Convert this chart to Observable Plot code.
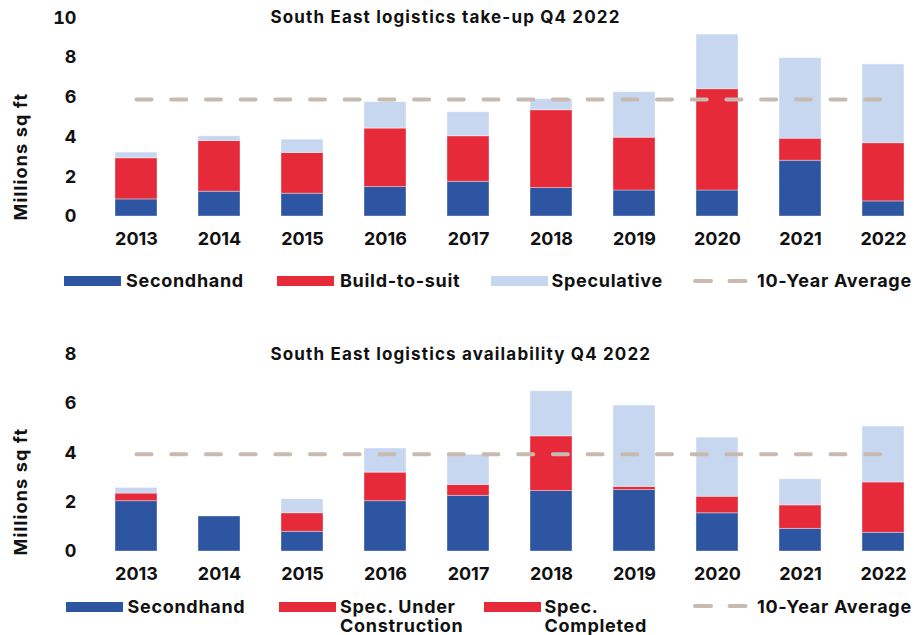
<!DOCTYPE html>
<html>
<head>
<meta charset="utf-8">
<script src="https://cdn.jsdelivr.net/npm/d3@7"></script>
<script src="https://cdn.jsdelivr.net/npm/@observablehq/plot@0.6"></script>
<style>
  html, body { margin: 0; padding: 0; background: #fff; }
  #root { position: relative; width: 914px; height: 635px; overflow: hidden; font-family: Inter, "Noto Sans", sans-serif; font-weight: 700; color: #111; }
  .chart { position: absolute; left: 0; }
  .chart g[aria-label="text"] text { letter-spacing: 1.15px; }
  .leg { position: absolute; font-size: 18px; line-height: 19px; white-space: nowrap; letter-spacing: 0.7px; }
  .sw { position: absolute; width: 57px; height: 10px; }
</style>
</head>
<body>
<div id="root"></div>
<script>
// ---------- data ----------
const years = ["2013","2014","2015","2016","2017","2018","2019","2020","2021","2022"];

// Take-up (millions sq ft)
const takeSeries = ["Secondhand", "Build-to-suit", "Speculative"];
const takeSecondhand = [0.86, 1.25, 1.15, 1.48, 1.75, 1.43, 1.31, 1.31, 2.81, 0.76];
const takeBuildToSuit = [2.07, 2.55, 2.05, 2.95, 2.29, 3.92, 2.66, 5.10, 1.11, 2.93];
const takeSpeculative = [0.29, 0.24, 0.67, 1.33, 1.21, 0.56, 2.29, 2.75, 4.06, 3.97];
const takeAverage = 5.9;
const takeTicks = [0, 2, 4, 6, 8, 10];

// Availability (millions sq ft)
const availSeries = ["Secondhand", "Spec. Under Construction", "Spec. Completed"];
const availSecondhand = [2.04, 1.42, 0.80, 2.04, 2.26, 2.45, 2.49, 1.55, 0.92, 0.76];
const availUnderConstruction = [0.31, 0, 0.75, 1.16, 0.44, 2.22, 0.13, 0.67, 0.95, 2.04];
const availCompleted = [0.23, 0, 0.57, 0.98, 1.22, 1.83, 3.30, 2.40, 1.06, 2.27];
const availAverage = 3.95;
const availTicks = [0, 2, 4, 6, 8];

const colors = ["#2E55A2", "#E62A3A", "#C8D7F0"];
const avgColor = "#C7BAB0";

// ---------- helpers ----------
function longTable(series, arrays) {
  const out = [];
  years.forEach((y, i) => {
    series.forEach((s, j) => out.push({year: y, series: s, value: arrays[j][i]}));
  });
  return out;
}

function makeChart({data, series, avg, ticks, ymax, title, height, marginTop}) {
  const avgData = years.map(y => ({year: y, value: avg}));
  return Plot.plot({
    width: 914,
    height,
    marginLeft: 105,
    marginRight: 1,
    marginTop,
    marginBottom: 39,
    style: {fontFamily: "Inter, 'Noto Sans', sans-serif", fontSize: "18px", fontWeight: 700, color: "#111", background: "transparent"},
    x: {domain: years, padding: 0.5, paddingOuter: 0.1, label: null},
    y: {domain: [0, ymax], ticks, label: null},
    color: {domain: series, range: colors},
    marks: [
      Plot.axisX({tickSize: 0, tickPadding: 16, label: null}),
      Plot.axisY({tickSize: 0, tickPadding: 29, ticks, label: null}),
      Plot.barY(data, {x: "year", y: "value", fill: "series", stroke: "#ffffff", strokeOpacity: 0.45, strokeWidth: 0.8}),
      Plot.lineY(avgData, {x: "year", y: "value", stroke: avgColor, strokeWidth: 4, strokeLinecap: "round", strokeDasharray: "15,19.7"}),
      Plot.text([title], {frameAnchor: "top-left", text: d => d, textAnchor: "start", lineAnchor: "middle", dx: 165, fontSize: 17, fontWeight: 700, fill: "#111"}),
      Plot.text(["Millions sq ft"], {frameAnchor: "bottom-left", text: d => d, rotate: -90, textAnchor: "start", lineAnchor: "middle", dx: -84.5, dy: 4, fontSize: 18, fontWeight: 700, fill: "#111"})
    ]
  });
}

const root = document.getElementById("root");

const chart1 = makeChart({
  data: longTable(takeSeries, [takeSecondhand, takeBuildToSuit, takeSpeculative]),
  series: takeSeries, avg: takeAverage, ticks: takeTicks, ymax: 10,
  title: "South East logistics take-up Q4 2022", height: 255, marginTop: 17.5
});
chart1.classList.add("chart");
chart1.style.top = "0px";
root.appendChild(chart1);

const chart2 = makeChart({
  data: longTable(availSeries, [availSecondhand, availUnderConstruction, availCompleted]),
  series: availSeries, avg: availAverage, ticks: availTicks, ymax: 8,
  title: "South East logistics availability Q4 2022", height: 260, marginTop: 23.8
});
chart2.classList.add("chart");
chart2.style.top = "330px";
root.appendChild(chart2);

// ---------- legends ----------
function swatch(left, top, color) {
  const d = document.createElement("div");
  d.className = "sw";
  d.style.left = left + "px";
  d.style.top = top + "px";
  d.style.background = color;
  root.appendChild(d);
}
function label(left, top, lines) {
  const d = document.createElement("div");
  d.className = "leg";
  d.style.left = left + "px";
  d.style.top = top + "px";
  lines.forEach((t, i) => {
    if (i) d.appendChild(document.createElement("br"));
    d.appendChild(document.createTextNode(t));
  });
  root.appendChild(d);
}
function dashKey(left, cy) {
  const ns = "http://www.w3.org/2000/svg";
  const s = document.createElementNS(ns, "svg");
  s.setAttribute("width", 60); s.setAttribute("height", 10);
  s.style.position = "absolute"; s.style.left = left + "px"; s.style.top = (cy - 5) + "px";
  const l = document.createElementNS(ns, "line");
  l.setAttribute("x1", 2); l.setAttribute("x2", 56); l.setAttribute("y1", 5); l.setAttribute("y2", 5);
  l.setAttribute("stroke", avgColor); l.setAttribute("stroke-width", 4);
  l.setAttribute("stroke-linecap", "round"); l.setAttribute("stroke-dasharray", "16,18.5");
  s.appendChild(l);
  root.appendChild(s);
}

// legend 1 (take-up)
const leg1 = [
  {sw: 64, tx: 126, text: [takeSeries[0]], c: colors[0]},
  {sw: 277, tx: 340, text: [takeSeries[1]], c: colors[1]},
  {sw: 490.5, tx: 551.5, text: [takeSeries[2]], c: colors[2]}
];
leg1.forEach(d => { swatch(d.sw, 276, d.c); label(d.tx, 271, d.text); });
dashKey(693, 281);
label(757, 271, ["10-Year Average"]);

// legend 2 (availability)
const leg2 = [
  {sw: 66, tx: 127.5, text: ["Secondhand"], c: colors[0]},
  {sw: 278.5, tx: 340, text: ["Spec. Under", "Construction"], c: colors[1]},
  {sw: 483.5, tx: 544.5, text: ["Spec.", "Completed"], c: colors[1]}
];
leg2.forEach(d => { swatch(d.sw, 601.5, d.c); label(d.tx, 596.5, d.text); });
dashKey(693, 606);
label(757, 596.5, ["10-Year Average"]);
</script>
</body>
</html>
